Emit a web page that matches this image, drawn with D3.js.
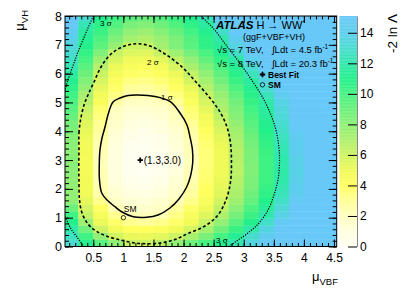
<!DOCTYPE html>
<html>
<head>
<meta charset="utf-8">
<script src="https://cdn.jsdelivr.net/npm/d3@7"></script>
<style>
body { margin: 0; background: #fff; }
text { font-family: "Liberation Sans", Arial, Helvetica, sans-serif; }
</style>
</head>
<body>
<script>
// grid of the likelihood scan, -2 ln Lambda
var muVBF = [0.125, 0.375, 0.625, 0.875, 1.125, 1.375, 1.625, 1.875, 2.125, 2.375,
             2.625, 2.875, 3.125, 3.375, 3.625, 3.875, 4.125, 4.375, 4.625];
var muVH = [0.12, 0.37, 0.61, 0.86, 1.10, 1.35, 1.59, 1.84, 2.08, 2.33, 2.57, 2.81,
            3.06, 3.30, 3.55, 3.79, 4.04, 4.28, 4.53, 4.77, 5.02, 5.26, 5.51, 5.75,
            6.00, 6.24, 6.49, 6.73, 6.97, 7.22, 7.46, 7.71, 7.95];
var nll = [
 [13.1, 11.2, 9.5, 7.8, 6.2, 6.1, 6.7, 7.8, 8.9, 10.0, 11.1, 12.2, 13.5, 14.7, 16, 17, 18, 18, 18],
 [12.6, 10.2, 7.8, 5.9, 5.2, 5.1, 5.4, 6.0, 7.2, 8.6, 10.0, 11.4, 12.9, 14.4, 15.9, 17, 18, 18, 18],
 [11.9, 8.9, 6.0, 4.8, 4.1, 4.0, 4.3, 4.9, 5.8, 7.3, 8.9, 10.4, 12.0, 13.6, 15.2, 16.8, 18, 18, 18],
 [11.1, 7.5, 5.1, 3.8, 3.1, 2.9, 3.2, 3.8, 4.8, 6.2, 7.8, 9.5, 11.1, 12.8, 14.6, 16.3, 18, 18, 18],
 [10.2, 6.3, 4.6, 3.1, 2.2, 2.1, 2.3, 3.3, 4.4, 5.5, 7.0, 8.7, 10.3, 12.0, 13.8, 15.5, 17, 18, 18],
 [9.0, 5.8, 3.9, 2.3, 1.7, 1.6, 1.9, 2.8, 3.8, 5.0, 6.4, 8.1, 9.8, 11.5, 13.3, 15.2, 17, 18, 18],
 [8.0, 5.3, 3.2, 1.8, 1.3, 1.2, 1.5, 2.1, 3.2, 4.5, 5.9, 7.5, 9.2, 11.0, 12.8, 14.7, 16.5, 18, 18],
 [7.9, 5.0, 2.5, 1.4, 0.9, 0.8, 1.1, 1.7, 2.8, 4.1, 5.5, 7.1, 8.9, 10.6, 12.4, 14.3, 16.2, 18, 18],
 [7.9, 4.8, 2.3, 1.2, 0.6, 0.5, 0.8, 1.5, 2.6, 3.9, 5.3, 6.9, 8.6, 10.4, 12.2, 14.1, 16, 17.9, 18],
 [7.9, 4.8, 2.2, 1.0, 0.4, 0.3, 0.6, 1.3, 2.4, 3.7, 5.1, 6.7, 8.5, 10.2, 12.0, 13.9, 15.8, 17.7, 18],
 [8.0, 4.7, 2.2, 0.9, 0.2, 0.1, 0.4, 1.1, 2.2, 3.6, 5.0, 6.6, 8.4, 10.2, 11.9, 13.8, 15.7, 17.6, 18],
 [8.1, 4.7, 2.1, 0.9, 0.2, 0.0, 0.3, 1.0, 2.1, 3.5, 5.0, 6.6, 8.4, 10.2, 12.0, 13.9, 15.8, 17.7, 18],
 [8.1, 4.7, 2.1, 0.9, 0.2, 0.0, 0.3, 1.0, 2.1, 3.5, 5.0, 6.7, 8.5, 10.2, 12.0, 13.9, 15.8, 17.7, 18],
 [8.0, 4.8, 2.2, 0.9, 0.2, 0.1, 0.4, 1.1, 2.2, 3.5, 5.0, 6.7, 8.5, 10.3, 12.2, 14.1, 16, 17.9, 18],
 [8.1, 4.9, 2.35, 1.0, 0.3, 0.2, 0.5, 1.2, 2.2, 3.6, 5.1, 6.9, 8.7, 10.5, 12.3, 14.2, 16.1, 18, 18],
 [8.2, 5.05, 2.6, 1.2, 0.5, 0.3, 0.6, 1.3, 2.4, 3.8, 5.35, 7.2, 8.9, 10.7, 12.5, 14.4, 16.3, 18, 18],
 [8.5, 5.3, 2.8, 1.4, 0.7, 0.5, 0.9, 1.5, 2.7, 4.05, 5.65, 7.4, 9.2, 11.0, 12.8, 14.7, 16.5, 18, 18],
 [8.7, 5.5, 3.05, 1.6, 0.9, 0.8, 1.1, 1.8, 3.0, 4.45, 6.05, 7.8, 9.5, 11.2, 13.0, 14.9, 16.8, 18, 18],
 [9.1, 5.85, 3.35, 1.8, 1.2, 1.1, 1.4, 2.1, 3.35, 4.9, 6.5, 8.2, 9.8, 11.45, 13.3, 15.2, 17, 18, 18],
 [9.5, 6.2, 3.65, 2.0, 1.5, 1.45, 1.7, 2.2, 3.65, 5.3, 7.0, 8.5, 10.1, 11.7, 13.5, 15.4, 17.2, 18, 18],
 [9.8, 6.7, 4.45, 2.7, 1.95, 1.9, 2.1, 2.9, 4.2, 5.7, 7.3, 8.8, 10.4, 11.9, 13.7, 15.6, 17.4, 18, 18],
 [10.2, 7.2, 4.8, 3.3, 2.5, 2.3, 2.7, 3.4, 4.6, 6.2, 7.7, 9.3, 10.8, 12.4, 14.3, 16.1, 18, 18, 18],
 [10.6, 7.8, 5.3, 3.8, 2.9, 2.8, 3.1, 3.9, 5.2, 6.75, 8.25, 9.8, 11.25, 13.0, 14.8, 16.7, 18, 18, 18],
 [11.2, 8.4, 5.75, 4.2, 3.4, 3.25, 3.6, 4.5, 5.8, 7.3, 8.8, 10.3, 11.7, 13.6, 15.5, 17.3, 18, 18, 18],
 [11.7, 8.9, 6.1, 4.7, 3.9, 3.75, 4.15, 5.1, 6.4, 7.9, 9.35, 10.8, 12.4, 14.3, 16.2, 18, 18, 18, 18],
 [12.2, 9.45, 6.7, 5.1, 4.4, 4.3, 4.7, 5.7, 7.1, 8.5, 9.9, 11.35, 13.1, 15.1, 17, 18, 18, 18, 18],
 [12.6, 10.0, 7.5, 5.65, 4.95, 4.85, 5.35, 6.5, 7.85, 9.2, 10.55, 11.95, 14.0, 16, 18, 18, 18, 18, 18],
 [13.0, 10.5, 8.4, 6.2, 5.55, 5.45, 6.2, 7.45, 8.7, 9.9, 11.2, 12.8, 14.9, 17, 18, 18, 18, 18, 18],
 [13.4, 11.05, 9.4, 7.7, 6.1, 6.2, 7.35, 8.45, 9.5, 10.6, 11.6, 13.7, 16, 18, 18, 18, 18, 18, 18],
 [13.9, 11.3, 9.8, 8.4, 7.3, 6.9, 7.6, 8.5, 9.6, 10.7, 12.05, 14.3, 16.5, 18, 18, 18, 18, 18, 18],
 [14.5, 11.7, 10.3, 9.0, 7.9, 7.6, 8.2, 9.1, 10.1, 11.2, 12.8, 15.0, 17.3, 18, 18, 18, 18, 18, 18],
 [15.2, 12.25, 10.7, 9.6, 8.6, 8.3, 8.9, 9.7, 10.6, 11.6, 13.7, 16.1, 18, 18, 18, 18, 18, 18, 18],
 [16, 13.0, 11.2, 10.2, 9.4, 9.1, 9.6, 10.3, 11.2, 12.4, 14.9, 17.4, 18, 18, 18, 18, 18, 18, 18]
];

// contour lines
var sigma1 = [[1.243,5.259],[1.525,5.207],[1.774,5.033],[1.941,4.634],[2.057,4.217],[2.107,3.801],
    [2.148,3.349],[2.152,2.898],[2.116,2.447],[2.052,2.065],[1.924,1.649],[1.774,1.336],[1.576,1.093],
    [1.387,1.014],[1.165,1.034],[0.978,1.197],[0.860,1.381],[0.728,1.614],[0.640,1.857],[0.603,2.308],
    [0.600,2.898],[0.611,3.349],[0.645,3.766],[0.695,4.148],[0.744,4.564],[0.828,5.016],[0.944,5.154],
    [1.077,5.241]];
var sigma2 = [[0.262,3.349],[0.262,3.940],[0.288,4.391],[0.346,4.911],[0.412,5.259],[0.512,5.710],
    [0.628,6.231],[0.778,6.647],[0.944,6.890],[1.111,7.011],[1.248,7.036],[1.443,6.959],[1.692,6.682],
    [1.974,6.231],[2.207,5.710],[2.439,5.154],[2.606,4.668],[2.722,4.148],[2.780,3.593],[2.796,2.898],
    [2.780,2.239],[2.705,1.614],[2.572,1.093],[2.357,0.711],[2.074,0.451],[1.858,0.243],[1.609,0.121],
    [1.276,0.104],[0.944,0.226],[0.695,0.382],[0.545,0.538],[0.412,0.781],[0.313,1.163],[0.271,1.614],
    [0.262,2.308],[0.259,2.829]];
var sigma3TopLeft = [[0.52,8.08],[0.503,8.0],[0.412,7.584],[0.329,7.167],[0.246,6.751],[0.180,6.369],
    [0.113,5.987],[0.063,5.675],[0.03,5.432],[0.01,5.3]];
var sigma3BottomLeft = [[0.0,1.2],[0.03,1.034],[0.08,0.816],[0.141,0.573],[0.229,0.33],[0.338,0.0],[0.36,-0.08]];
var sigma3Right = [[2.28,8.08],[2.301,8.0],[2.389,7.792],[2.495,7.574],[2.705,6.994],[2.938,6.359],
    [3.153,5.710],[3.320,5.154],[3.453,4.564],[3.535,4.044],[3.586,3.419],[3.594,2.898],[3.569,2.308],
    [3.503,1.788],[3.404,1.267],[3.254,0.816],[3.071,0.469],[2.872,0.174],[2.756,0.0],[2.72,-0.06]];

var bestFit = [1.28, 3.0];
var smPoint = [1, 1];

var xTicks = [0.5, 1, 1.5, 2, 2.5, 3, 3.5, 4, 4.5];
var yTicks = [0, 1, 2, 3, 4, 5, 6, 7, 8];
var zTicks = [0, 2, 4, 6, 8, 10, 12, 14];

var paletteValues = [0, 1, 2, 3, 4, 5, 6, 7, 8, 9, 10, 11, 12, 13, 14, 15.1];
var paletteColors = ["#fffff4", "#ffffde", "#ffffc0", "#ffff96", "#ffff5e", "#f0fa58", "#cef462",
    "#aef06c", "#8ef076", "#6cf07c", "#46f282", "#22f08a", "#30e8aa", "#48dcd0", "#5ccfec", "#68c8f8"];

var WIDTH = 407, HEIGHT = 296;
var LEFT = 65, TOP = 16, RIGHT = 336.7, BOTTOM = 246.5;

var x = d3.scaleLinear().domain([0.03, 4.545]).range([LEFT, RIGHT]);
var y = d3.scaleLinear().domain([0, 8]).range([BOTTOM, TOP]);
var z = d3.scaleLinear().domain([0, 15.1]).range([BOTTOM, TOP]);
var color = d3.scaleLinear().domain(paletteValues).range(paletteColors).clamp(true);

var svg = d3.select("body").append("svg")
        .attr("width", WIDTH)
        .attr("height", HEIGHT);

svg.append("clipPath").attr("id", "plotclip")
        .append("rect")
        .attr("x", LEFT).attr("y", TOP)
        .attr("width", RIGHT - LEFT).attr("height", BOTTOM - TOP);

drawHeat();
drawContours();
drawMarkers();
drawAxes();
drawColorBar();
drawTexts();

function edges(c) {
    var e = [];
    e.push(c[0] - (c[1] - c[0]) / 2);
    for (var i = 1; i < c.length; i++) e.push((c[i - 1] + c[i]) / 2);
    e.push(c[c.length - 1] + (c[c.length - 1] - c[c.length - 2]) / 2);
    return e;
}

function drawHeat() {
    var xe = edges(muVBF), ye = edges(muVH);
    var cells = [];
    nll.forEach(function (row, i) {
        row.forEach(function (v, j) {
            cells.push({i: i, j: j, v: v});
        });
    });
    svg.append("g")
            .attr("clip-path", "url(#plotclip)")
            .selectAll("rect")
            .data(cells)
            .enter()
            .append("rect")
            .attr("x", function (d) { return x(xe[d.j]); })
            .attr("y", function (d) { return y(ye[d.i + 1]); })
            .attr("width", function (d) { return x(xe[d.j + 1]) - x(xe[d.j]) + 0.4; })
            .attr("height", function (d) { return y(ye[d.i]) - y(ye[d.i + 1]) + 0.4; })
            .attr("fill", function (d) { return color(d.v); });
}

function drawContours() {
    var g = svg.append("g").attr("clip-path", "url(#plotclip)").attr("fill", "none").attr("stroke", "#000");
    var closed = d3.line().x(function (d) { return x(d[0]); }).y(function (d) { return y(d[1]); })
            .curve(d3.curveCatmullRomClosed);
    var open = d3.line().x(function (d) { return x(d[0]); }).y(function (d) { return y(d[1]); })
            .curve(d3.curveCatmullRom);
    g.append("path").attr("d", closed(sigma1)).attr("stroke-width", 1.5);
    g.append("path").attr("d", closed(sigma2)).attr("stroke-width", 1.6).attr("stroke-dasharray", "3,2.3");
    [sigma3TopLeft, sigma3BottomLeft, sigma3Right].forEach(function (c) {
        g.append("path").attr("d", open(c)).attr("stroke-width", 1.2).attr("stroke-dasharray", "1.2,1.3");
    });

    var lab = svg.append("g").attr("font-size", 8).attr("fill", "#000");
    lab.append("text").attr("x", 161).attr("y", 100).text("1 σ");
    lab.append("text").attr("x", 147).attr("y", 64.5).text("2 σ");
    lab.append("text").attr("x", 100).attr("y", 25.5).text("3 σ");
    lab.append("text").attr("x", 216).attr("y", 243).text("3 σ");
}

function drawMarkers() {
    var bx = x(bestFit[0]), by = y(bestFit[1]);
    svg.append("path")
            .attr("d", d3.symbol().type(d3.symbolCross).size(16)())
            .attr("transform", "translate(" + bx + "," + by + ")")
            .attr("fill", "#000");
    svg.append("text")
            .attr("x", bx + 3.5).attr("y", by + 3.5)
            .attr("font-size", 10)
            .text("(" + d3.format(".1f")(bestFit[0]) + "," + d3.format(".1f")(bestFit[1]) + ")");

    var sx = x(smPoint[0]), sy = y(smPoint[1]);
    svg.append("circle")
            .attr("cx", sx).attr("cy", sy).attr("r", 2.2)
            .attr("fill", "none").attr("stroke", "#000").attr("stroke-width", 0.8);
    svg.append("text")
            .attr("x", sx + 0.5).attr("y", sy - 5.5)
            .attr("font-size", 8.5)
            .text("SM");
}

function styleAxis(g) {
    g.select(".domain").remove();
    g.selectAll("line").attr("stroke", "#000").attr("stroke-width", 1);
    g.attr("font-family", null);
}

function drawAxes() {
    var minorX = x.ticks(45), minorY = y.ticks(40);

    var gb = svg.append("g").attr("transform", "translate(0," + BOTTOM + ")")
            .call(d3.axisBottom(x).tickValues(xTicks).tickSizeInner(-7).tickSizeOuter(0)
                    .tickPadding(7).tickFormat(d3.format("~g")));
    styleAxis(gb);
    gb.selectAll("text").attr("font-size", 12).attr("fill", "#000");
    styleAxis(svg.append("g").attr("transform", "translate(0," + BOTTOM + ")")
            .call(d3.axisBottom(x).tickValues(minorX).tickSize(-3.5).tickFormat("")));
    styleAxis(svg.append("g").attr("transform", "translate(0," + TOP + ")")
            .call(d3.axisTop(x).tickValues(xTicks).tickSize(-7).tickFormat("")));
    styleAxis(svg.append("g").attr("transform", "translate(0," + TOP + ")")
            .call(d3.axisTop(x).tickValues(minorX).tickSize(-3.5).tickFormat("")));

    var gl = svg.append("g").attr("transform", "translate(" + LEFT + ",0)")
            .call(d3.axisLeft(y).tickValues(yTicks).tickSizeInner(-8).tickSizeOuter(0)
                    .tickPadding(3).tickFormat(d3.format("d")));
    styleAxis(gl);
    gl.selectAll("text").attr("font-size", 12.5).attr("fill", "#000");
    styleAxis(svg.append("g").attr("transform", "translate(" + LEFT + ",0)")
            .call(d3.axisLeft(y).tickValues(minorY).tickSize(-4).tickFormat("")));
    styleAxis(svg.append("g").attr("transform", "translate(" + RIGHT + ",0)")
            .call(d3.axisRight(y).tickValues(yTicks).tickSize(-8).tickFormat("")));
    styleAxis(svg.append("g").attr("transform", "translate(" + RIGHT + ",0)")
            .call(d3.axisRight(y).tickValues(minorY).tickSize(-4).tickFormat("")));

    svg.append("rect")
            .attr("x", LEFT).attr("y", TOP)
            .attr("width", RIGHT - LEFT).attr("height", BOTTOM - TOP)
            .attr("fill", "none").attr("stroke", "#000").attr("stroke-width", 1);

    var tx = svg.append("text").attr("x", 338).attr("y", 281).attr("text-anchor", "end");
    tx.append("tspan").attr("font-size", 13).text("μ");
    tx.append("tspan").attr("font-size", 9.5).attr("dy", 4).text("VBF");

    var ty = svg.append("text").attr("transform", "translate(23.5,10) rotate(-90)").attr("text-anchor", "end");
    ty.append("tspan").attr("font-size", 13).text("μ");
    ty.append("tspan").attr("font-size", 9.5).attr("dy", 4).text("VH");
}

function drawColorBar() {
    var x0 = 339.5, x1 = 357;
    var steps = d3.range(0, 15.1, 0.05);
    svg.append("g").selectAll("rect")
            .data(steps)
            .enter()
            .append("rect")
            .attr("x", x0)
            .attr("y", function (d) { return z(Math.min(d + 0.05, 15.1)); })
            .attr("width", x1 - x0)
            .attr("height", function (d) { return z(d) - z(Math.min(d + 0.05, 15.1)) + 0.3; })
            .attr("fill", function (d) { return color(d + 0.025); });

    var gz = svg.append("g").attr("transform", "translate(" + x1 + ",0)")
            .call(d3.axisRight(z).tickValues(zTicks).tickSizeInner(-9).tickSizeOuter(0).tickPadding(3));
    gz.select(".domain").attr("stroke", "#888");
    gz.selectAll("line").attr("stroke", "#000");
    gz.attr("font-family", null);
    gz.selectAll("text").attr("font-size", 12).attr("fill", "#000");

    svg.append("text")
            .attr("transform", "translate(396.5,14) rotate(-90)")
            .attr("text-anchor", "end")
            .attr("font-size", 13.5)
            .text("-2 ln Λ");
}

function drawTexts() {
    var t1 = svg.append("text").attr("x", 216).attr("y", 29);
    t1.append("tspan").attr("font-size", 11.5).attr("font-weight", "bold").attr("font-style", "italic").text("ATLAS");
    t1.append("tspan").attr("font-size", 11).text(" H → WW");
    t1.append("tspan").attr("font-size", 7.5).attr("dy", -4).text("*");

    svg.append("text").attr("x", 274).attr("y", 39.5).attr("text-anchor", "middle")
            .attr("font-size", 9).text("(ggF+VBF+VH)");

    var lines = [["√s = 7 TeV,", "∫Ldt = 4.5 fb", 53], ["√s = 8 TeV,", "∫Ldt = 20.3 fb", 66.5]];
    lines.forEach(function (l) {
        svg.append("text").attr("x", 217).attr("y", l[2]).attr("font-size", 9.5).text(l[0]);
        var t = svg.append("text").attr("x", 272).attr("y", l[2]).attr("font-size", 9.5);
        t.append("tspan").text(l[1]);
        t.append("tspan").attr("font-size", 6.5).attr("dy", -4).text("-1");
    });

    svg.append("path")
            .attr("d", d3.symbol().type(d3.symbolCross).size(16)())
            .attr("transform", "translate(262.5,74.5)")
            .attr("fill", "#000");
    svg.append("text").attr("x", 268).attr("y", 77.5).attr("font-size", 8.5)
            .attr("font-weight", "bold").text("Best Fit");
    svg.append("circle").attr("cx", 262.5).attr("cy", 84.8).attr("r", 2.2)
            .attr("fill", "none").attr("stroke", "#000").attr("stroke-width", 0.8);
    svg.append("text").attr("x", 268).attr("y", 88).attr("font-size", 8.5)
            .attr("font-weight", "bold").text("SM");
}
</script>
</body>
</html>
